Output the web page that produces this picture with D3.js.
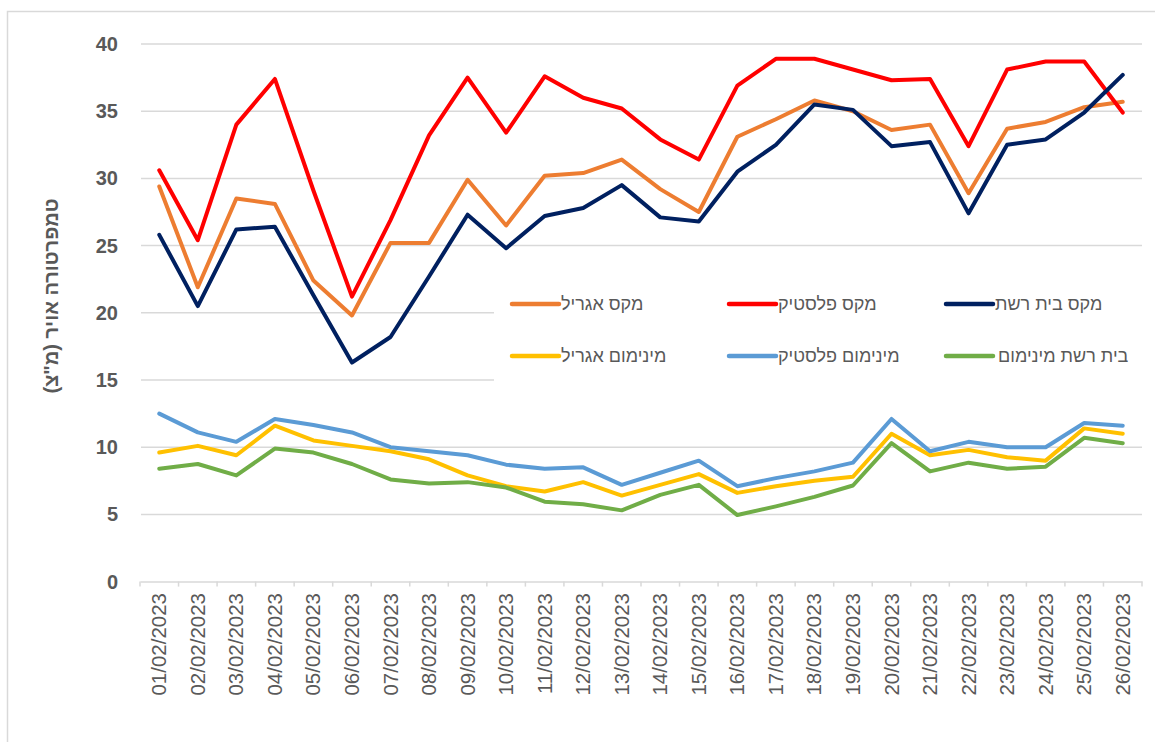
<!DOCTYPE html>
<html>
<head>
<meta charset="utf-8">
<title>temperature</title>
<script type="text/javascript" src="https://cdn.jsdelivr.net/npm/d3@7"></script>
<style type="text/css">
  body { margin: 0; background: #fff; }
  text { font-family: "Liberation Sans", Arial, sans-serif; fill: #595959; }
</style>
</head>
<body>
<script type="text/javascript">

  var dates = ["01/02/2023","02/02/2023","03/02/2023","04/02/2023","05/02/2023","06/02/2023","07/02/2023",
               "08/02/2023","09/02/2023","10/02/2023","11/02/2023","12/02/2023","13/02/2023","14/02/2023",
               "15/02/2023","16/02/2023","17/02/2023","18/02/2023","19/02/2023","20/02/2023","21/02/2023",
               "22/02/2023","23/02/2023","24/02/2023","25/02/2023","26/02/2023"];

  var maxAgril   = [29.4,21.9,28.5,28.1,22.4,19.8,25.2,25.2,29.9,26.5,30.2,30.4,31.4,29.2,27.5,33.1,34.4,35.8,35.0,33.6,34.0,28.9,33.7,34.2,35.3,35.7];
  var maxPlastic = [30.6,25.4,34.0,37.4,29.1,21.2,26.9,33.2,37.5,33.4,37.6,36.0,35.2,32.9,31.4,36.9,38.9,38.9,38.1,37.3,37.4,32.4,38.1,38.7,38.7,34.9];
  var maxNet     = [25.8,20.5,26.2,26.4,21.3,16.3,18.2,22.7,27.3,24.8,27.2,27.8,29.5,27.1,26.8,30.5,32.5,35.5,35.1,32.4,32.7,27.4,32.5,32.9,34.9,37.7];
  var minAgril   = [9.6,10.1,9.4,11.6,10.5,10.1,9.7,9.1,7.9,7.1,6.7,7.4,6.4,7.2,8.0,6.6,7.1,7.5,7.8,11.0,9.4,9.8,9.25,9.0,11.4,11.0];
  var minPlastic = [12.5,11.1,10.4,12.1,11.65,11.1,10.0,9.7,9.4,8.7,8.4,8.5,7.2,8.1,9.0,7.1,7.7,8.2,8.85,12.1,9.7,10.4,10.0,10.0,11.8,11.6];
  var minNet     = [8.4,8.75,7.9,9.9,9.6,8.75,7.6,7.3,7.4,7.0,5.95,5.75,5.3,6.45,7.2,4.95,5.6,6.3,7.15,10.3,8.2,8.85,8.4,8.55,10.7,10.3];

  var yTicks = [0,5,10,15,20,25,30,35,40];

  var series = [
    {name: "מקס אגריל", values: maxAgril, color: "#ED7D31"},
    {name: "מקס פלסטיק", values: maxPlastic, color: "#FF0000"},
    {name: "מקס בית רשת", values: maxNet, color: "#002060"},
    {name: "מינימום אגריל", values: minAgril, color: "#FFC000"},
    {name: "מינימום פלסטיק", values: minPlastic, color: "#5B9BD5"},
    {name: "בית רשת מינימום", values: minNet, color: "#70AD47"}
  ];

  var w = 1155, h = 742;
  var plotLeft = 140, plotRight = 1142, plotTop = 44, plotBottom = 581.6;

  var svg = d3.select("body").append("svg")
              .attr("width", w)
              .attr("height", h);

  // outer chart frame
  svg.append("rect")
     .attr("x", 7.5).attr("y", 11.5)
     .attr("width", 1170).attr("height", 760)
     .attr("fill", "none").attr("stroke", "#d9d9d9").attr("stroke-width", 1.5);

  var x = d3.scaleBand().domain(dates).range([plotLeft, plotRight]);
  var y = d3.scaleLinear().domain([0, 40]).range([plotBottom, plotTop]);

  // gridlines
  svg.selectAll("line.grid")
     .data(yTicks.filter(function(d) { return d > 0; }))
     .enter().append("line")
     .attr("class", "grid")
     .attr("x1", plotLeft + 1).attr("x2", plotRight)
     .attr("y1", function(d) { return y(d); })
     .attr("y2", function(d) { return y(d); })
     .attr("stroke", "#d9d9d9").attr("stroke-width", 1.5);

  // y axis labels
  svg.selectAll("text.ytick")
     .data(yTicks)
     .enter().append("text")
     .attr("class", "ytick")
     .attr("x", 118)
     .attr("y", function(d) { return y(d); })
     .attr("dy", "0.35em")
     .attr("text-anchor", "end")
     .style("font-size", "20px")
     .style("font-weight", "bold")
     .text(function(d) { return d; });

  // x axis
  var xAxis = d3.axisBottom(x).tickSize(0).tickFormat("");
  var gx = svg.append("g").attr("transform", "translate(0," + plotBottom + ")").call(xAxis);
  gx.select(".domain").attr("stroke", "#d9d9d9").attr("stroke-width", 1.5);

  svg.selectAll("line.xtick")
     .data(d3.range(dates.length + 1))
     .enter().append("line")
     .attr("class", "xtick")
     .attr("x1", function(i) { return plotLeft + i * x.step(); })
     .attr("x2", function(i) { return plotLeft + i * x.step(); })
     .attr("y1", plotBottom).attr("y2", plotBottom + 5)
     .attr("stroke", "#d9d9d9").attr("stroke-width", 1.5);

  svg.selectAll("text.xlabel")
     .data(dates)
     .enter().append("text")
     .attr("class", "xlabel")
     .attr("transform", function(d) {
        return "translate(" + (x(d) + x.bandwidth() / 2 + 7) + "," + 593 + ") rotate(-90)";
     })
     .attr("text-anchor", "end")
     .style("font-size", "20.5px")
     .text(function(d) { return d; });

  // y title
  svg.append("text")
     .attr("transform", "translate(58,296) rotate(-90)")
     .attr("text-anchor", "middle")
     .style("font-size", "20px")
     .style("font-weight", "bold")
     .text('טמפרטורה אויר (מ"צ)');

  // legend background and items
  var lg = svg.append("g");
  lg.append("rect")
    .attr("x", 494).attr("y", 283)
    .attr("width", 650).attr("height", 102)
    .attr("fill", "#fff");

  var legX = [512, 729, 946];
  var legY = [304, 356];

  var items = lg.selectAll("g.item")
    .data(series)
    .enter().append("g")
    .attr("class", "item")
    .attr("transform", function(d, i) {
       return "translate(" + legX[i % 3] + "," + legY[Math.floor(i / 3)] + ")";
    });

  items.append("line")
    .attr("x1", 0).attr("x2", 47)
    .attr("y1", 0).attr("y2", 0)
    .attr("stroke", function(d) { return d.color; })
    .attr("stroke-width", 4.5)
    .attr("stroke-linecap", "round");

  items.append("text")
    .attr("x", function(d, i) { return i === 5 ? 52 : 49; })
    .attr("dy", "0.35em")
    .attr("text-anchor", "start")
    .style("font-size", "18px")
    .text(function(d) { return d.name; });

  // lines
  var line = d3.line()
    .x(function(d, i) { return x(dates[i]) + x.bandwidth() / 2; })
    .y(function(d) { return y(d); });

  var drawOrder = [3, 4, 5, 0, 1, 2];
  drawOrder.forEach(function(k) {
    svg.append("path")
       .datum(series[k].values)
       .attr("d", line)
       .attr("fill", "none")
       .attr("stroke", series[k].color)
       .attr("stroke-width", 4)
       .attr("stroke-linejoin", "round")
       .attr("stroke-linecap", "round");
  });

</script>
</body>
</html>
